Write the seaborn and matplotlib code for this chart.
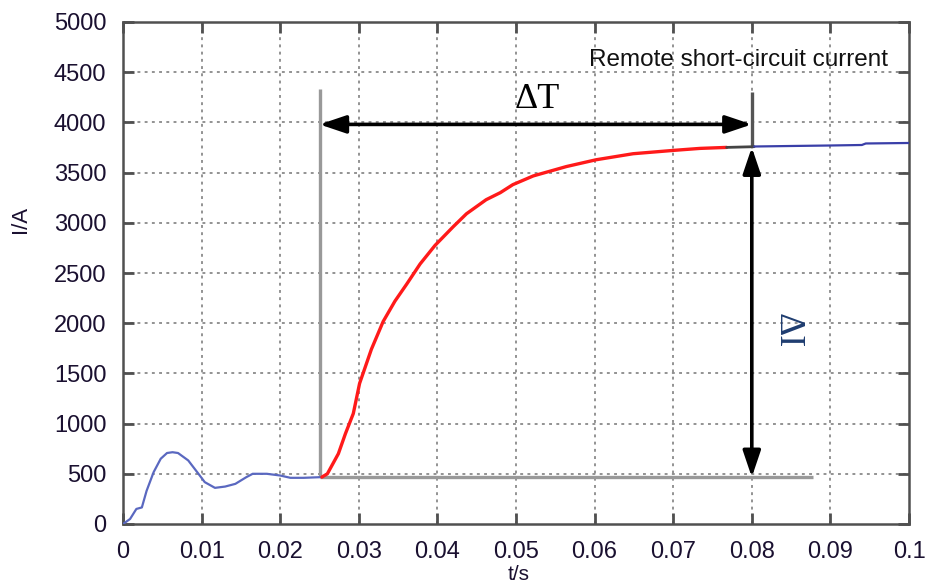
import matplotlib
matplotlib.use("Agg")
import matplotlib.pyplot as plt
import seaborn as sns
import pandas as pd

# ---- data ----
t_start = [0, 0.0009, 0.0017, 0.0024, 0.003, 0.0039, 0.0048, 0.0056, 0.0063, 0.007,
           0.0083, 0.0096, 0.0104, 0.0117, 0.013, 0.0143, 0.0157, 0.0165, 0.0183,
           0.02, 0.0213, 0.023, 0.0253]
i_start = [0, 50, 150, 165, 330, 517, 650, 707, 715, 707,
           633, 500, 417, 360, 373, 400, 467, 500, 500,
           483, 460, 460, 467]

t_rise = [0.0253, 0.026, 0.0274, 0.0283, 0.0293, 0.0301, 0.0316, 0.0331, 0.0346, 0.0361,
          0.0378, 0.0397, 0.042, 0.0437, 0.0462, 0.048, 0.0496, 0.0522, 0.0564, 0.0602,
          0.0649, 0.07, 0.0734, 0.0768]
i_rise = [467, 500, 700, 900, 1100, 1400, 1740, 2017, 2220, 2390,
          2590, 2775, 2960, 3090, 3230, 3300, 3380, 3467, 3560, 3628,
          3688, 3721, 3741, 3751]

t_join = [0.0768, 0.0803]
i_join = [3751, 3758]

t_end = [0.0803, 0.085, 0.09, 0.094, 0.0945, 0.1]
i_end = [3760, 3765, 3770, 3775, 3790, 3795]

x_ticks = [0, 0.01, 0.02, 0.03, 0.04, 0.05, 0.06, 0.07, 0.08, 0.09, 0.1]
x_tick_labels = ["0", "0.01", "0.02", "0.03", "0.04", "0.05", "0.06", "0.07", "0.08", "0.09", "0.1"]
y_ticks = [0, 500, 1000, 1500, 2000, 2500, 3000, 3500, 4000, 4500, 5000]

t_fault = 0.025        # start of the rise
t_steady = 0.08        # end of ΔT
i_base = 466           # pre-fault current level
i_arrow_T = 3980       # level of the ΔT arrow
i_steady = 3752        # steady-state current

sns.set_theme(style="white")
plt.rcParams["font.family"] = ["Liberation Sans", "DejaVu Sans"]

fig = plt.figure(figsize=(9.25, 5.83), dpi=100)
ax = fig.add_axes([123 / 925, 59 / 583, 786 / 925, 502 / 583])

df_start = pd.DataFrame({"t": t_start, "I": i_start})
df_rise = pd.DataFrame({"t": t_rise, "I": i_rise})
df_join = pd.DataFrame({"t": t_join, "I": i_join})
df_end = pd.DataFrame({"t": t_end, "I": i_end})

grid_kw = dict(color="#8a8a8a", linestyle=(0, (1.6, 2.4)), linewidth=1.3)
for xv in x_ticks[1:-1]:
    ax.axvline(xv, zorder=0, **grid_kw)
for yv in y_ticks[1:-1]:
    ax.axhline(yv, zorder=0, **grid_kw)

# annotation guide lines
ax.plot([t_fault, t_fault], [i_base, 4330], color="#999999", lw=2.4, zorder=2, solid_capstyle="butt")
ax.plot([t_fault, 0.0878], [i_base, i_base], color="#999999", lw=2.4, zorder=2, solid_capstyle="butt")
ax.plot([t_steady, t_steady], [i_steady, 4300], color="#555555", lw=2.4, zorder=2, solid_capstyle="butt")

sns.lineplot(data=df_start, x="t", y="I", ax=ax, color="#5a68c0", lw=1.6, sort=False, zorder=3)
sns.lineplot(data=df_rise, x="t", y="I", ax=ax, color="#ff1a1a", lw=2.4, sort=False, zorder=3)
sns.lineplot(data=df_join, x="t", y="I", ax=ax, color="#444444", lw=2.0, sort=False, zorder=3)
sns.lineplot(data=df_end, x="t", y="I", ax=ax, color="#3a3fa8", lw=1.6, sort=False, zorder=3)

arrow_kw = dict(arrowstyle="<|-|>,head_length=0.8,head_width=0.27", color="black",
                lw=2.6, mutation_scale=20, shrinkA=0, shrinkB=0)
ax.annotate("", xy=(t_fault, i_arrow_T), xytext=(t_steady, i_arrow_T), arrowprops=arrow_kw, zorder=4)
ax.annotate("", xy=(t_steady, i_steady), xytext=(t_steady, i_base), arrowprops=arrow_kw, zorder=4)

ax.text(0.0527, 4230, "ΔT", family=["Liberation Serif", "DejaVu Serif"], fontsize=26,
        ha="center", va="center", color="black")
ax.text(0.0845, 1925, "ΔI", family=["Liberation Serif", "DejaVu Serif"], fontsize=26,
        ha="center", va="center", rotation=-90, color="#1f3d70")
ax.text(0.0783, 4620, "Remote short-circuit current", fontsize=17.5,
        ha="center", va="center", color="#111111")

ax.set_xlim(0, 0.1)
ax.set_ylim(0, 5000)
ax.set_xticks(x_ticks)
ax.set_xticklabels(x_tick_labels)
ax.set_yticks(y_ticks)
ax.set_xlabel("")
ax.set_ylabel("")

for s in ax.spines.values():
    s.set_visible(True)
    s.set_color("#505050")
    s.set_linewidth(1.8)

ax.tick_params(axis="both", which="major", direction="in", length=8, width=2,
               color="#505050", labelsize=17, labelcolor="#1a1030",
               top=True, right=True, bottom=True, left=True)
ax.tick_params(axis="x", pad=12)
ax.tick_params(axis="y", pad=12)

fig.text(20 / 925, 1 - 219 / 583, "I/A", rotation=90, fontsize=16, ha="center", va="center", color="#1a1030")
fig.text(519 / 925, 1 - 565 / 583, "t/s", fontsize=15, ha="center", va="top", color="#1a1030")

fig.savefig("out.png", dpi=100)
